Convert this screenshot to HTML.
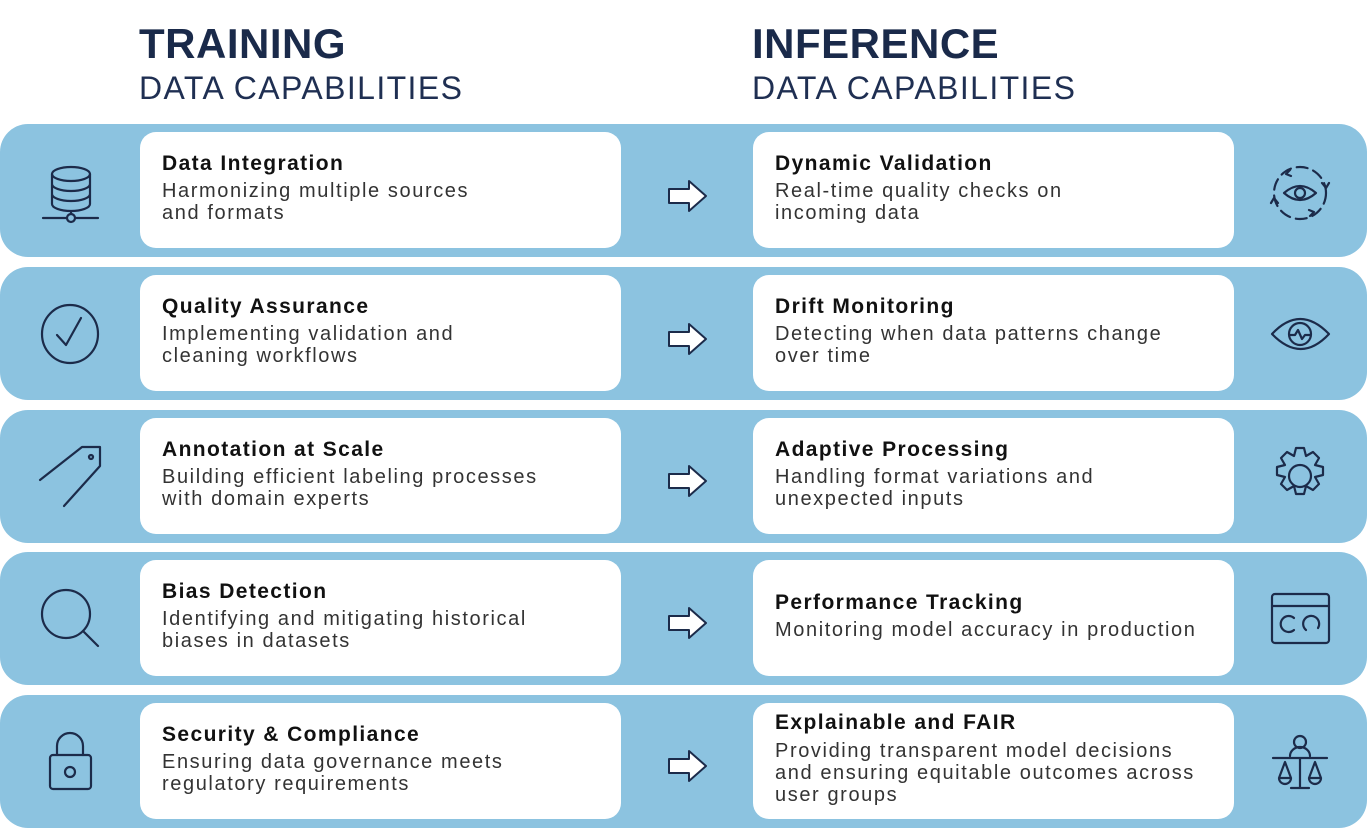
<!DOCTYPE html>
<html><head><meta charset="utf-8"><style>
*{margin:0;padding:0;box-sizing:border-box}
body{width:1367px;height:828px;background:#fff;position:relative;overflow:hidden;font-family:"Liberation Sans",sans-serif;color:#1c2b4a}
.h1{position:absolute;top:20px;font-size:42px;font-weight:bold;letter-spacing:0.5px;color:#1a2a4a}
.h2{position:absolute;top:70px;font-size:32px;font-weight:normal;color:#1f2f52;letter-spacing:1.4px}
.band{position:absolute;left:0;width:1367px;height:133px;background:#8cc3e0;border-radius:28px}
.card{position:absolute;width:481px;height:116px;background:#fff;border-radius:16px}
.t{position:absolute;left:22px;font-size:21px;font-weight:bold;color:#111;letter-spacing:1.4px;white-space:nowrap}
.d{position:absolute;left:22px;font-size:20px;color:#333;line-height:22px;letter-spacing:1.6px;white-space:nowrap}
</style></head><body>
<div class="h1" style="left:139px">TRAINING</div>
<div class="h2" style="left:139px">DATA CAPABILITIES</div>
<div class="h1" style="left:752px">INFERENCE</div>
<div class="h2" style="left:752px">DATA CAPABILITIES</div>

<div class="band" style="top:124px"></div>
<div class="band" style="top:267px"></div>
<div class="band" style="top:410px"></div>
<div class="band" style="top:552px"></div>
<div class="band" style="top:695px"></div>

<div class="card" style="left:140px;top:132px"><div class="t" style="top:20px">Data Integration</div><div class="d" style="top:48px">Harmonizing multiple sources<br>and formats</div></div>
<div class="card" style="left:753px;top:132px"><div class="t" style="top:20px">Dynamic Validation</div><div class="d" style="top:48px">Real-time quality checks on<br>incoming data</div></div>
<div class="card" style="left:140px;top:275px"><div class="t" style="top:20px">Quality Assurance</div><div class="d" style="top:48px">Implementing validation and<br>cleaning workflows</div></div>
<div class="card" style="left:753px;top:275px"><div class="t" style="top:20px">Drift Monitoring</div><div class="d" style="top:48px">Detecting when data patterns change<br>over time</div></div>
<div class="card" style="left:140px;top:418px"><div class="t" style="top:20px">Annotation at Scale</div><div class="d" style="top:48px">Building efficient labeling processes<br>with domain experts</div></div>
<div class="card" style="left:753px;top:418px"><div class="t" style="top:20px">Adaptive Processing</div><div class="d" style="top:48px">Handling format variations and<br>unexpected inputs</div></div>
<div class="card" style="left:140px;top:560px"><div class="t" style="top:20px">Bias Detection</div><div class="d" style="top:48px">Identifying and mitigating historical<br>biases in datasets</div></div>
<div class="card" style="left:753px;top:560px"><div class="t" style="top:31px">Performance Tracking</div><div class="d" style="top:59px">Monitoring model accuracy in production</div></div>
<div class="card" style="left:140px;top:703px"><div class="t" style="top:20px">Security &amp; Compliance</div><div class="d" style="top:48px">Ensuring data governance meets<br>regulatory requirements</div></div>
<div class="card" style="left:753px;top:703px"><div class="t" style="top:8px">Explainable and FAIR</div><div class="d" style="top:37px">Providing transparent model decisions<br>and ensuring equitable outcomes across<br>user groups</div></div>

<svg width="1367" height="828" style="position:absolute;left:0;top:0" fill="none" stroke="#1c2b4a" stroke-width="2.2" stroke-linecap="round" stroke-linejoin="round">
<defs><path id="arr" d="M0,-7 H20 V-15 L37,0 L20,15 V7 H0 Z" fill="#fff" stroke="#1c2b4a" stroke-width="2"/></defs>
<use href="#arr" x="669" y="196"/>
<use href="#arr" x="669" y="339"/>
<use href="#arr" x="669" y="481"/>
<use href="#arr" x="669" y="623"/>
<use href="#arr" x="669" y="766"/>
<ellipse cx="71" cy="174" rx="19" ry="7"/>
<path d="M52,174 V204 M90,174 V204 M52,184 a19,7 0 0 0 38,0 M52,194 a19,7 0 0 0 38,0 M52,204 a19,7 0 0 0 38,0 M71,211 V214 M43,218 H66 M76,218 H98"/>
<circle cx="71" cy="218" r="4"/>
<ellipse cx="70" cy="334" rx="28" ry="29"/>
<path d="M57,335 L66,345 L81,318"/>
<path d="M40,480 L82,447 L100,447 L100,466 L64,506 M82,447 L40,480"/>
<circle cx="91" cy="457" r="2"/>
<circle cx="66" cy="614" r="24"/>
<path d="M83,631 L98,646"/>
<rect x="50" y="755" width="41" height="34" rx="3"/>
<path d="M57,755 V746 a13,13 0 0 1 26,0 V755"/>
<circle cx="70" cy="772" r="5"/>
<path d="M1284,193 q16,-14 32,0 q-16,14 -32,0 z"/><circle cx="1300" cy="193" r="5"/>
<circle cx="1300" cy="193" r="26" stroke-dasharray="11 6"/>
<path d="M1290,170 l-4,4 l5,2 M1322,183 l4,5 l3,-5 M1310,216 l4,-4 l-5,-2 M1278,203 l-4,-5 l-3,5"/>
<path d="M1272,334 q28,-30 57,0 q-28,30 -57,0 z"/><circle cx="1300" cy="334" r="11"/>
<path d="M1290,335 h5 l3,-5 l4,9 l3,-4 h5"/>
<path d="M1296,448 h8 l2,8 l7,-4 l6,6 l-4,7 l8,2 v8 l-8,2 l4,7 l-6,6 l-7,-4 l-2,8 h-8 l-2,-8 l-7,4 l-6,-6 l4,-7 l-8,-2 v-8 l8,-2 l-4,-7 l6,-6 l7,4 z"/>
<circle cx="1300" cy="476" r="11"/>
<rect x="1272" y="594" width="57" height="49" rx="3"/>
<path d="M1272,606 H1329"/>
<path d="M1294,618 a8,8 0 1 0 0,12 M1306,630 a8,8 0 1 1 12,-2"/>
<circle cx="1300" cy="742" r="6"/>
<path d="M1290,756 a10,9 0 0 1 20,0 M1273,758 H1327 M1300,758 V788 M1291,788 H1309 M1285,762 L1279,778 M1285,762 L1291,778 M1279,778 a6,6 0 0 0 12,0 z M1315,762 L1309,778 M1315,762 L1321,778 M1309,778 a6,6 0 0 0 12,0 z"/>
</svg>
</body></html>
